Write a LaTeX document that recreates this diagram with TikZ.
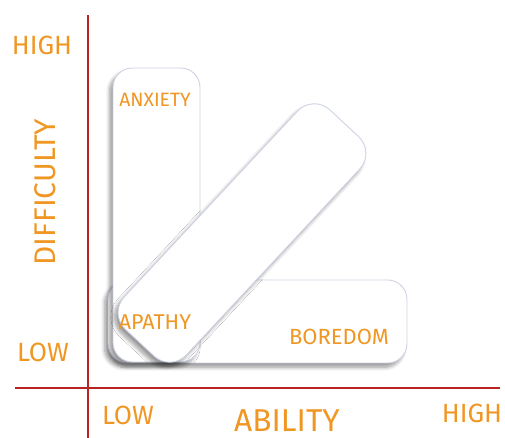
\documentclass[tikz,border=0pt]{standalone}
\usepackage{fontspec}
\setmainfont{Fira Sans}
\usepackage{xcolor}
\usepackage{tikz}
\usetikzlibrary{shadows.blur}
\definecolor{zoneorange}{RGB}{240,150,35}
\definecolor{axisred}{RGB}{185,35,35}
\definecolor{rimblue}{RGB}{205,210,228}

\begin{document}
\begin{tikzpicture}[x=0.02cm, y=0.02cm,
    zone/.style={draw=rimblue, fill=white, line width=0.5pt, inner sep=0pt,
      blur shadow={shadow xshift=-2pt, shadow yshift=-2.5pt, shadow blur steps=8,
        shadow opacity=40}},
    tag/.style={text=zoneorange, inner sep=0pt, font=\fontsize{15}{16}\selectfont},
    axis/.style={draw=axisred, line width=1.3pt}]
    \useasboundingbox (0,0) rectangle (505,438);

    % the three zones
    \node[zone, rounded corners=11pt, minimum width=5.98cm, minimum height=1.66cm] (boredom) at (257.5,116.5) {};
    \node[zone, rounded corners=11pt, minimum width=1.74cm, minimum height=5.88cm] (anxiety) at (156.5,223) {};
    \node[zone, rounded corners=13pt, minimum width=6cm, minimum height=1.7cm, rotate=47] (flow) at (242,205) {};

    % axes
    \coordinate (ytop) at (88,423);
    \coordinate (ybot) at (88,0);
    \coordinate (xleft) at (15,50);
    \coordinate (xright) at (500,50);
    \draw[axis] (ybot) -- (ytop);
    \draw[axis] (xleft) -- (xright);

    % labels
    \node[tag, font=\fontsize{11}{12}\selectfont] (anx) at (155,338) {ANXIETY};
    \node[tag, font=\fontsize{12.2}{13}\selectfont] (apa) at (155,116) {APATHY};
    \node[tag, font=\fontsize{12.5}{13}\selectfont] (bor) at (339,101) {BOREDOM};
    \node[tag] (yhigh) at (42,393) {HIGH};
    \node[tag] (ylow) at (43,86) {LOW};
    \node[tag, font=\fontsize{17}{18}\selectfont, rotate=90] (ylab) at (45,246) {DIFFICULTY};
    \node[tag] (xlow) at (128,23) {LOW};
    \node[tag, font=\fontsize{18}{19}\selectfont] (xlab) at (287,17) {ABILITY};
    \node[tag] (xhigh) at (472,25) {HIGH};
\end{tikzpicture}
\end{document}
